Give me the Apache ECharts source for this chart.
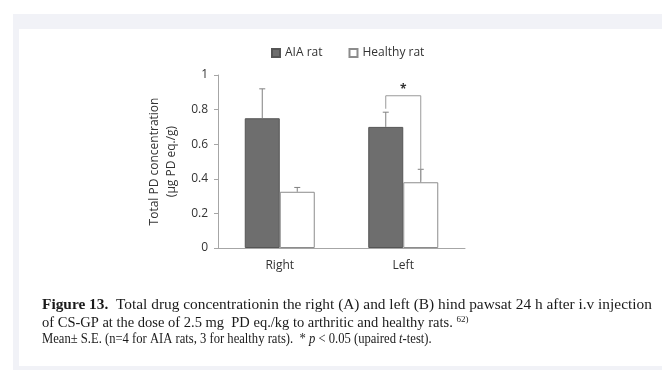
<!DOCTYPE html>
<html>
<head>
<meta charset="utf-8">
<script src="https://cdn.jsdelivr.net/npm/echarts@6/dist/echarts.min.js"></script>
<style>
  html, body { margin: 0; padding: 0; background: #ffffff; }
  #chart { width: 662px; height: 374px; }
</style>
</head>
<body>
<div id="chart"></div>
<script>
// Paw sides on the x axis
const categories = ['Right', 'Left'];
// Mean total PD concentration (µg PD eq./g)
const aiaValues = [0.75, 0.70];
const healthyValues = [0.325, 0.38];
// Upper end of the S.E. whiskers
const aiaErrTop = [0.92, 0.785];
const healthyErrTop = [0.35, 0.455];
// Significance bracket on the Left group: top level, left leg end, right leg end
const bracketLevels = [0.88, 0.805, 0.39];
const seriesNames = ['AIA rat', 'Healthy rat'];

const BAR_W = 35;
const chart = echarts.init(document.getElementById('chart'));
const sans = '"Open Sans", "Noto Sans", sans-serif';
const serif = '"Liberation Serif", "DejaVu Serif", serif';
const CAP = '14.5px ';

function errorSeries(name, tops, vals, offset) {
  return {
    type: 'custom',
    name: name + ' err',
    z: 5,
    silent: true,
    data: tops.map((t, i) => [i, vals[i], t]),
    renderItem: function (params, api) {
      const base = api.coord([api.value(0), api.value(1)]);
      const top = api.coord([api.value(0), api.value(2)]);
      const x = base[0] + offset;
      return {
        type: 'group',
        children: [
          { type: 'line', shape: { x1: x, y1: base[1], x2: x, y2: top[1] },
            style: { stroke: '#808080', lineWidth: 1 } },
          { type: 'line', shape: { x1: x - 3, y1: top[1], x2: x + 3, y2: top[1] },
            style: { stroke: '#808080', lineWidth: 1 } }
        ]
      };
    }
  };
}

const option = {
  animation: false,
  backgroundColor: '#ffffff',
  graphic: [
    { type: 'rect', z: -10, shape: { x: 13, y: 14, width: 660, height: 356 },
      style: { fill: '#f1f2f7' } },
    { type: 'rect', z: -9, shape: { x: 19, y: 29, width: 660, height: 337 },
      style: { fill: '#ffffff' } },
    {
      // justified first caption line
      type: 'text', x: 42, y: 298, scaleX: 1.06, z: 10,
      style: {
        text: '{b|Figure 13.}  Total drug concentrationin the right (A) and left (B) hind pawsat 24 h after i.v injection',
        font: CAP + serif, fill: '#1a1a1a',
        rich: { b: { font: 'bold ' + CAP + serif, fill: '#1a1a1a' } }
      }
    },
    {
      type: 'text', x: 42, y: 315, z: 10,
      style: {
        text: 'of CS-GP at the dose of 2.5 mg  PD eq./kg to arthritic and healthy rats. {s|62)}',
        font: CAP + serif, fill: '#1a1a1a',
        rich: { s: { font: '9px ' + serif, fill: '#1a1a1a', verticalAlign: 'top', padding: [0, 0, 7, 0] } }
      }
    },
    {
      type: 'text', x: 42, y: 332, scaleX: 0.87, z: 10,
      style: {
        text: 'Mean\u00b1 S.E. (n=4 for AIA rats, 3 for healthy rats).  * {i|p} < 0.05 (upaired {i|t}-test).',
        font: CAP + serif, fill: '#1a1a1a',
        rich: { i: { font: 'italic ' + CAP + serif, fill: '#1a1a1a' } }
      }
    }
  ],
  legend: {
    data: seriesNames,
    left: 266, top: 42,
    itemWidth: 8, itemHeight: 8, itemGap: 26,
    icon: 'rect',
    textStyle: { fontFamily: sans, fontSize: 12, color: '#333' }
  },
  grid: { left: 218, right: 197, top: 75, bottom: 126 },
  xAxis: {
    type: 'category',
    data: categories,
    axisLine: { lineStyle: { color: '#a6a6a6' } },
    axisTick: { show: false },
    axisLabel: { fontFamily: sans, fontSize: 12, color: '#333', margin: 12 }
  },
  yAxis: {
    type: 'value',
    min: 0, max: 1, interval: 0.2,
    name: 'Total PD concentration\n(\u00b5g PD eq./g)',
    nameLocation: 'middle',
    nameGap: 38,
    nameTextStyle: { fontFamily: sans, fontSize: 12, color: '#333', lineHeight: 17 },
    axisLine: { show: true, lineStyle: { color: '#a6a6a6' } },
    axisTick: { show: true, inside: false, length: 4, lineStyle: { color: '#a6a6a6' } },
    splitLine: { show: false },
    axisLabel: { fontFamily: sans, fontSize: 12, color: '#333', margin: 10 }
  },
  series: [
    {
      name: seriesNames[0], type: 'bar', data: aiaValues,
      barWidth: BAR_W, barGap: '0%',
      itemStyle: { color: '#6e6e6e', borderColor: '#555555', borderWidth: 1 }
    },
    {
      name: seriesNames[1], type: 'bar', data: healthyValues,
      barWidth: BAR_W, barGap: '0%',
      itemStyle: { color: '#ffffff', borderColor: '#8c8c8c', borderWidth: 1 }
    },
    errorSeries(seriesNames[0], aiaErrTop, aiaValues, -BAR_W / 2),
    errorSeries(seriesNames[1], healthyErrTop, healthyValues, BAR_W / 2),
    {
      type: 'custom',
      name: 'bracket',
      z: 6,
      silent: true,
      data: [[1, bracketLevels[0], bracketLevels[1], bracketLevels[2]]],
      renderItem: function (params, api) {
        const c = api.value(0);
        const topP = api.coord([c, api.value(1)]);
        const leftEnd = api.coord([c, api.value(2)]);
        const rightEnd = api.coord([c, api.value(3)]);
        const xl = topP[0] - BAR_W / 2;
        const xr = topP[0] + BAR_W / 2;
        return {
          type: 'group',
          children: [
            { type: 'polyline',
              shape: { points: [[xl, leftEnd[1]], [xl, topP[1]], [xr, topP[1]], [xr, rightEnd[1]]] },
              style: { stroke: '#9a9a9a', lineWidth: 1, fill: null } },
            { type: 'text', x: topP[0], y: topP[1],
              style: { text: '*', font: 'bold 12px ' + sans, fill: '#333',
                       align: 'center', verticalAlign: 'bottom' } }
          ]
        };
      }
    }
  ]
};
chart.setOption(option);
</script>
</body>
</html>
